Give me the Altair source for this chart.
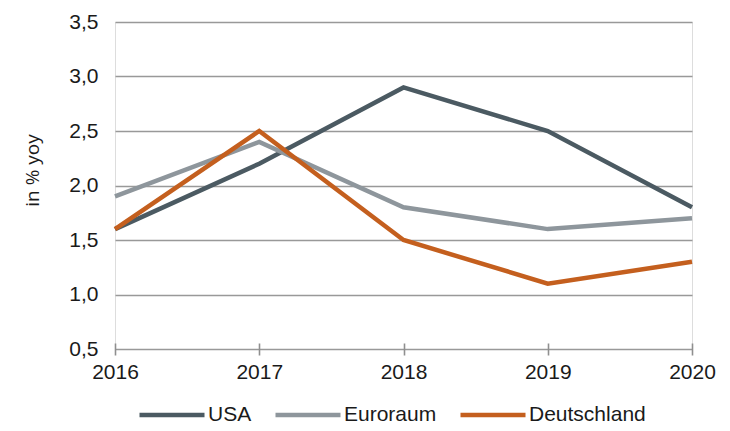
import altair as alt
import pandas as pd

years = [2016, 2017, 2018, 2019, 2020]
series = ["USA", "Euroraum", "Deutschland"]
usa = [1.6, 2.2, 2.9, 2.5, 1.8]
euro = [1.9, 2.4, 1.8, 1.6, 1.7]
de = [1.6, 2.5, 1.5, 1.1, 1.3]
colors = ["#4b5a62", "#8e969c", "#c45f1e"]
y_ticks = [0.5, 1.0, 1.5, 2.0, 2.5, 3.0, 3.5]

rows = []
for name, vals in zip(series, [usa, euro, de]):
    for yr, v in zip(years, vals):
        rows.append({"Jahr": yr, "Wert": v, "Serie": name})
df = pd.DataFrame(rows)

FONT = "Liberation Sans"
TXT = "#1a1a1a"

chart = alt.Chart(df).mark_line(strokeWidth=4.5, strokeJoin="miter").encode(
    x=alt.X("Jahr:Q",
            scale=alt.Scale(domain=[2016, 2020], nice=False, zero=False),
            axis=alt.Axis(values=years, format="d", title=None, grid=False,
                          domain=False, offset=-6,
                          tickColor="#8f8f8f", tickWidth=1.6, tickSize=12,
                          labelPadding=6, labelFontSize=21, labelColor=TXT,
                          labelFont=FONT, labelFlush=False)),
    y=alt.Y("Wert:Q",
            scale=alt.Scale(domain=[0.5, 3.5], nice=False, zero=False),
            axis=alt.Axis(values=y_ticks, title="in % yoy",
                          labelExpr="replace(format(datum.value, '.1f'), '.', ',')",
                          domain=False, ticks=False, labelPadding=17,
                          gridColor="#999999", gridWidth=1.6,
                          labelFontSize=21, labelColor=TXT, labelFont=FONT,
                          titleFontSize=19, titleFontWeight="normal",
                          titleColor=TXT, titleFont="Open Sans", titlePadding=26,
                          titleY=148)),
    color=alt.Color("Serie:N",
                    scale=alt.Scale(domain=series, range=colors),
                    sort=series,
                    legend=alt.Legend(title=None, orient="none", direction="horizontal",
                                      legendX=22, legendY=358, padding=0,
                                      symbolType="stroke", symbolSize=4225,
                                      symbolStrokeWidth=4.5, labelFontSize=21,
                                      labelFont=FONT, labelColor=TXT,
                                      labelOffset=1, columnPadding=14)),
).properties(
    width=577,
    height=327,
    autosize=alt.AutoSizeParams(type="none"),
    padding={"left": 107, "top": 14, "right": 30, "bottom": 80},
).configure_view(stroke=None).configure(background="white")

chart.save("out.html", embed_options={"renderer": "svg", "actions": False})
